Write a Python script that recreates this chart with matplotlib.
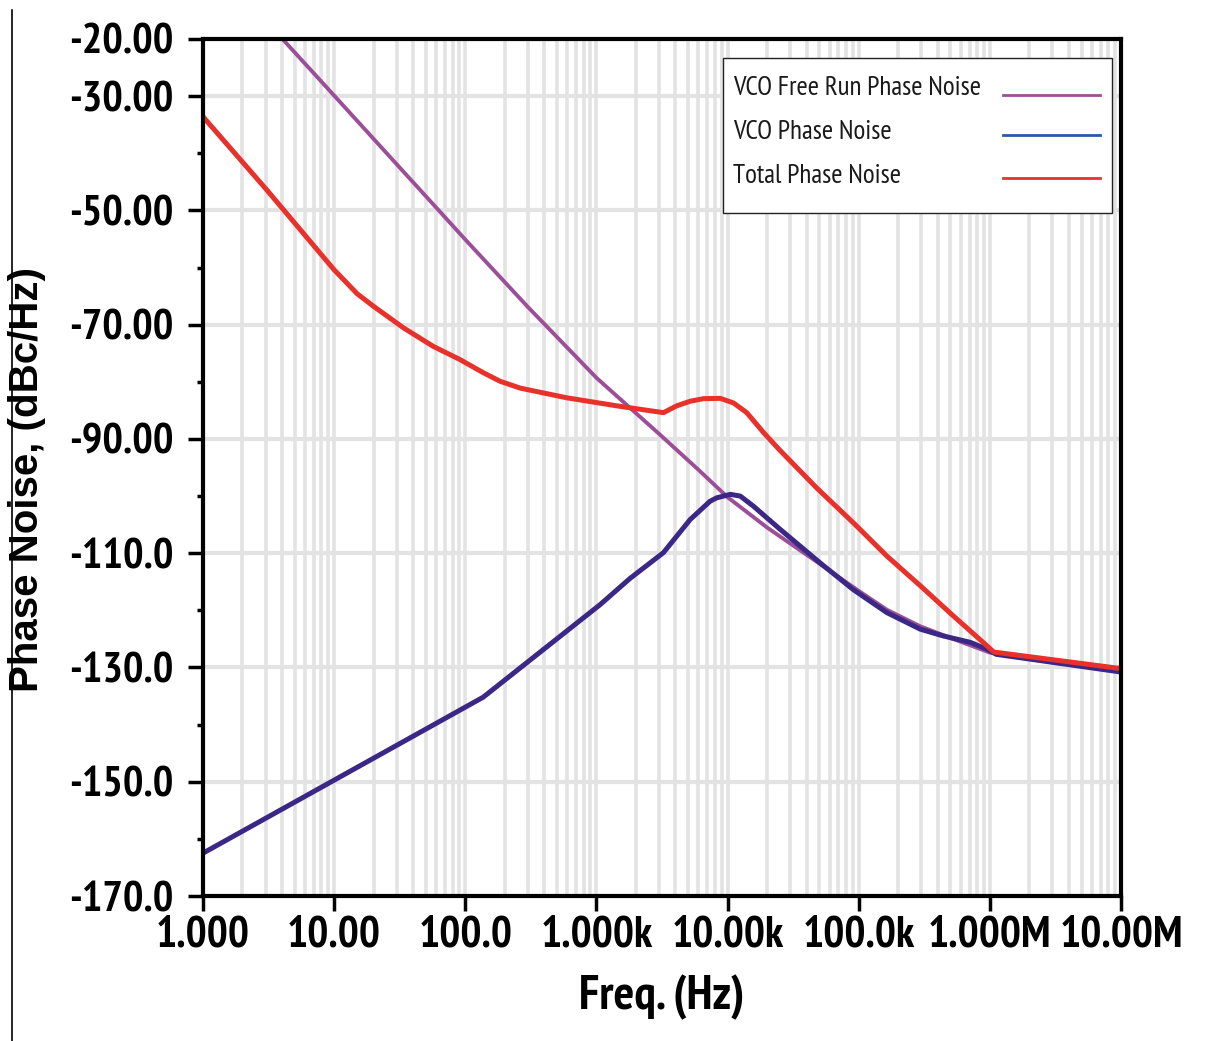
import matplotlib
matplotlib.use('Agg')
import matplotlib.pyplot as plt
from matplotlib import font_manager
from matplotlib.lines import Line2D
from matplotlib.patches import Rectangle
from matplotlib.ticker import FixedLocator, LogLocator, NullFormatter

def pick(fams):
    avail = {f.name for f in font_manager.fontManager.ttflist}
    for f in fams:
        if f in avail:
            return f
    return 'DejaVu Sans'

NARROW = pick(['Liberation Sans Narrow', 'Arial Narrow', 'PT Sans Narrow',
               'Archivo Narrow', 'Roboto Condensed', 'IBM Plex Sans Condensed',
               'Liberation Sans'])
WIDE = pick(['Liberation Sans', 'Arial', 'DejaVu Sans'])

# ---------------- data ----------------
free_f = [4.0, 10, 100, 300, 1000, 3000, 6000, 10000, 20000, 50000, 100000,
          164000, 295000, 525000, 1.0e6, 3.0e6, 1.0e7]
free_db = [-19.9, -29.9, -55.1, -66.9, -79.3, -89.1, -95.4, -100.2, -105.5,
           -111.8, -116.6, -119.9, -122.8, -125.0, -127.4, -129.1, -130.7]

vco_f = [1.0, 137, 1067, 1807, 3243, 5190, 7360, 8280, 10500, 12500, 15800,
         25100, 50800, 91200, 164000, 295000, 444000, 708000, 950000, 1.12e6,
         1.0e7]
vco_db = [-162.5, -135.2, -119.0, -114.4, -109.9, -104.1, -100.9, -100.3,
          -99.7, -100.0, -101.8, -105.8, -111.7, -116.4, -120.4, -123.3,
          -124.5, -125.6, -126.8, -127.7, -130.8]

tot_f = [1.0, 3.06, 10, 15, 20, 34, 57, 91, 137, 184, 262, 594, 1517, 3243,
         4100, 5190, 6550, 8800, 11100, 14000, 19000, 25100, 47900, 91200,
         164000, 295000, 528000, 950000, 1.07e6, 1.0e7]
tot_db = [-33.6, -46.4, -60.4, -64.6, -66.8, -70.6, -73.8, -76.1, -78.4,
          -79.9, -81.1, -82.8, -84.3, -85.4, -84.2, -83.4, -82.95, -82.9,
          -83.7, -85.4, -89.0, -92.0, -98.6, -104.7, -110.5, -115.7, -121.0,
          -126.2, -127.3, -130.2]

series_names = ['VCO Free Run Phase Noise', 'VCO Phase Noise', 'Total Phase Noise']

x_ticks = [1, 10, 100, 1e3, 1e4, 1e5, 1e6, 1e7]
x_labels = ['1.000', '10.00', '100.0', '1.000k', '10.00k', '100.0k', '1.000M', '10.00M']
y_ticks = [-170, -150, -130, -110, -90, -70, -50, -30, -20]
y_labels = ['-170.0', '-150.0', '-130.0', '-110.0', '-90.00', '-70.00', '-50.00', '-30.00', '-20.00']
y_minor = [-160, -140, -120, -100, -80, -60, -40]

# ---------------- figure ----------------
W, H = 1210, 1041
fig = plt.figure(figsize=(W / 100, H / 100), dpi=100)
fig.patch.set_facecolor('white')
ax = fig.add_axes([203 / W, 1 - 896 / H, (1121 - 203) / W, (896 - 39) / H])
ax.set_xscale('log')
ax.set_xlim(1, 1e7)
ax.set_ylim(-170, -20)

c_free = '#9c4f98'
c_vco = '#3b2785'
c_vco_leg = '#2f57a5'
c_tot = '#e8312a'

ax.plot(free_f, free_db, color=c_free, lw=2.8, zorder=3, solid_joinstyle='round')
ax.plot(vco_f, vco_db, color=c_vco, lw=3.6, zorder=4, solid_joinstyle='round')
ax.plot(tot_f, tot_db, color=c_tot, lw=3.6, zorder=5, solid_joinstyle='round')

# ticks
ax.xaxis.set_major_locator(FixedLocator(x_ticks))
ax.set_xticklabels(x_labels)
ax.xaxis.set_minor_locator(LogLocator(base=10, subs=[2, 3, 4, 5, 6, 7, 8, 9], numticks=50))
ax.xaxis.set_minor_formatter(NullFormatter())
ax.yaxis.set_major_locator(FixedLocator(y_ticks))
ax.set_yticklabels(y_labels)
ax.yaxis.set_minor_locator(FixedLocator(y_minor))

ax.tick_params(axis='x', which='major', direction='out', length=11, width=2.5, pad=3)
ax.tick_params(axis='x', which='minor', length=0)
ax.tick_params(axis='y', which='major', direction='out', length=11, width=2.5, pad=10)
ax.tick_params(axis='y', which='minor', direction='out', length=4, width=2.5)

for lab in ax.get_yticklabels():
    lab.set_fontfamily(NARROW)
    lab.set_fontweight('bold')
    lab.set_fontsize(31)
for lab in ax.get_xticklabels():
    lab.set_fontfamily(NARROW)
    lab.set_fontweight('bold')
    lab.set_fontsize(32)

# grid
ax.set_axisbelow(True)
ax.grid(which='major', axis='x', color='#e3e3e3', lw=2.6)
ax.grid(which='minor', axis='x', color='#e3e3e3', lw=2.6)
ax.grid(which='major', axis='y', color='#e3e3e3', lw=3.0)

for s in ax.spines.values():
    s.set_linewidth(3)
    s.set_color('black')
    s.set_zorder(6)

ax.set_xlabel('Freq. (Hz)', family=NARROW, fontweight='bold', fontsize=35, labelpad=14)
fig.text(27 / W, 1 - 480 / H, 'Phase Noise, (dBc/Hz)', family=WIDE, fontweight='bold',
         fontsize=29, rotation=90, ha='center', va='center')

# legend (text left, sample line right, as in the reference)
fx = lambda px: px / W
fy = lambda py: 1 - py / H
fig.add_artist(Rectangle((fx(722.5), fy(212.5)), (1111.5 - 722.5) / W, (212.5 - 58.3) / H,
                         transform=fig.transFigure, facecolor='white', edgecolor='#222222',
                         lw=1.0, zorder=8))
leg_colors = [c_free, c_vco_leg, c_tot]
text_y = [88, 132, 176]
line_y = [95, 135, 178]
for name, col, ty, ly in zip(series_names, leg_colors, text_y, line_y):
    fig.text(fx(733), fy(ty), name, family=NARROW, fontsize=19.5, color='#1a1a1a',
             ha='left', va='center', zorder=9)
    fig.add_artist(Line2D([fx(1003), fx(1100)], [fy(ly), fy(ly)], transform=fig.transFigure,
                          color=col, lw=2, zorder=9))

# thin left border line
fig.add_artist(Line2D([12 / W, 12 / W], [0, 1 - 10 / H], transform=fig.transFigure,
                      color='black', lw=1.2))

fig.savefig('out.png', dpi=100, facecolor='white')
